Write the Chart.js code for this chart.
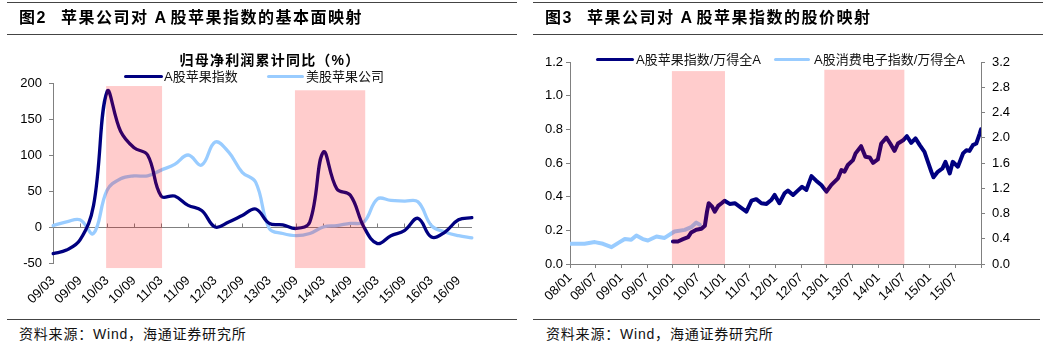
<!DOCTYPE html>
<html><head><meta charset="utf-8">
<script src="https://cdn.jsdelivr.net/npm/chart.js@4.4.1/dist/chart.umd.min.js"></script>
<style>
html,body{margin:0;padding:0;background:#fff;}
body{width:1054px;height:355px;position:relative;overflow:hidden;font-family:"Liberation Sans","Noto Sans CJK SC",sans-serif;color:#000;}
canvas{position:absolute;top:0;z-index:0;}
.rule{position:absolute;height:1px;background:#444;z-index:1;}
.t{position:absolute;white-space:nowrap;z-index:1;}
.title{font-weight:bold;font-size:16px;letter-spacing:1.5px;line-height:20px;top:8px;}
.title .a{margin:0 3px 0 6px;}
.ctitle{font-weight:bold;font-size:14px;letter-spacing:1.2px;line-height:18px;top:51px;text-align:center;}
.leg{font-size:13px;line-height:18px;color:#111;}
.sw{position:absolute;height:3px;border-radius:2px;z-index:1;}
.src{font-size:14px;letter-spacing:0.8px;line-height:18px;top:325px;color:#111;}
</style>
</head>
<body>
<!-- left panel -->
<div class="rule" style="left:7px;width:510px;top:2px"></div>
<div class="t title" style="left:19px">图2</div>
<div class="t title" style="left:61px">苹果公司对<span class="a">A</span>股苹果指数的基本面映射</div>
<div class="rule" style="left:7px;width:510px;top:34px"></div>
<div class="t ctitle" style="left:170px;width:200px">归母净利润累计同比（%）</div>
<div class="sw" style="left:124px;width:39px;top:75px;background:#000080"></div>
<div class="t leg" style="left:164px;top:68px">A股苹果指数</div>
<div class="sw" style="left:267px;width:37px;top:75px;background:#99CCFF"></div>
<div class="t leg" style="left:306px;top:68px">美股苹果公司</div>
<div class="rule" style="left:7px;width:510px;top:319px"></div>
<div class="t src" style="left:19px">资料来源：Wind，海通证券研究所</div>

<!-- right panel -->
<div class="rule" style="left:533px;width:510px;top:2px"></div>
<div class="t title" style="left:545px">图3</div>
<div class="t title" style="left:587px">苹果公司对<span class="a">A</span>股苹果指数的股价映射</div>
<div class="rule" style="left:533px;width:510px;top:34px"></div>
<div class="sw" style="left:596px;width:38px;top:58px;background:#000080"></div>
<div class="t leg" style="left:636px;top:51px">A股苹果指数/万得全A</div>
<div class="sw" style="left:774px;width:36px;top:58px;background:#99CCFF"></div>
<div class="t leg" style="left:814px;top:51px">A股消费电子指数/万得全A</div>
<div class="rule" style="left:533px;width:507px;top:319px"></div>
<div class="t src" style="left:546px">资料来源：Wind，海通证券研究所</div>

<canvas id="c1" width="526" height="318" style="left:0"></canvas>
<canvas id="c2" width="528" height="318" style="left:526px"></canvas>

<script>
// ---------- Figure 2 data (quarterly, cumulative YoY net profit %) ----------
const quarters = ['09/03','09/06','09/09','09/12','10/03','10/06','10/09','10/12',
  '11/03','11/06','11/09','11/12','12/03','12/06','12/09','12/12',
  '13/03','13/06','13/09','13/12','14/03','14/06','14/09','14/12',
  '15/03','15/06','15/09','15/12','16/03','16/06','16/09','16/12'];
const aShareApple = [-37,-32,-18,30,188,133,110,100,43,43,30,23,0,7,16,25,
  5,3,-2,7,104,53,44,0,-23,-12,-5,12,-14,-7,10,13];
const usApple = [2,7,10,-9,51,67,71,71,79,87,100,86,118,104,76,62,
  -2,-9,-12,-9,0,2,5,7,39,37,36,35,2,-7,-12,-15];
// highlighted periods (category index units) and their heights
const fig2BandStart = [3.93, 17.9];
const fig2BandEnd = [8.07, 23.1];
const fig2BandTop = [195.8, 189.9];
const fig2BandBottom = -57;

// ---------- Figure 3 data (months since 2008/01) ----------
const fig3TickLabels = ['08/01','08/07','09/01','09/07','10/01','10/07','11/01','11/07',
  '12/01','12/07','13/01','13/07','14/01','14/07','15/01','15/07'];
const appleMonths = [24.05,25.2,26.4,27.6,28.3,29.5,30.7,31.5,32.0,32.4,33.2,33.8,34.6,35.4,36.1,
  37.3,38.5,39.6,41.2,42.4,43.5,44.7,45.9,47.0,47.8,48.9,50.1,50.9,52.1,53.2,54.2,55.2,56.4,
  57.5,58.7,59.9,61.0,61.4,62.6,63.4,64.1,64.9,66.1,66.7,68.0,69.0,70.0,70.8,71.9,72.7,73.9,
  74.8,75.8,76.6,77.8,78.7,79.7,80.7,81.7,82.8,83.6,84.4,84.9,85.9,87.0,87.7,88.7,89.4,90.6,
  91.8,92.6,93.3,94.1,94.9,95.7,96.0];
const appleRatio = [0.134,0.134,0.148,0.160,0.187,0.203,0.209,0.227,0.311,0.361,0.341,0.311,0.345,0.361,0.376,
  0.357,0.361,0.341,0.311,0.376,0.385,0.361,0.357,0.380,0.410,0.361,0.420,0.436,0.410,0.436,0.459,0.440,0.522,
  0.495,0.469,0.430,0.469,0.479,0.509,0.558,0.548,0.588,0.617,0.657,0.700,0.637,0.633,0.601,0.621,0.716,0.751,
  0.716,0.672,0.716,0.735,0.759,0.720,0.746,0.706,0.666,0.607,0.548,0.515,0.548,0.568,0.607,0.538,0.607,0.578,
  0.657,0.676,0.672,0.706,0.716,0.775,0.800];
// consumer electronics ratio, read on the right axis
const elecMonths = [0,3.4,5.8,7.7,9.7,11.2,12.8,14.3,15.5,17.0,18.2,20.2,22.1,24.4,26.8,28.3,29.5,30.3];
const elecRatio = [0.32,0.32,0.347,0.32,0.267,0.331,0.395,0.384,0.451,0.395,0.373,0.435,0.413,0.514,0.541,0.584,0.656,0.621];
const fig3BandStart = [23.8, 59.4];
const fig3BandEnd = [36.2, 78.1];
const fig3BandTop = [1.146, 1.154];
const fig3BandBottom = 0;

// ---------- styles ----------
const NAVY = '#000080', LIGHT = '#99CCFF', AXIS = '#808080', BAND = 'rgba(255,0,0,0.2)';
const tickFont = {family:'"Liberation Sans", Arial, sans-serif', size:13};
const xFont = {family:'"Liberation Sans", Arial, sans-serif', size:13};

function bandPlugin(id, yId, starts, ends, tops, bottom){
  return {
    id,
    afterDatasetsDraw(chart){
      const ctx = chart.ctx, xs = chart.scales.x, ys = chart.scales[yId];
      ctx.save();
      ctx.fillStyle = BAND;
      starts.forEach((s, i) => {
        const x0 = xs.getPixelForValue(s), x1 = xs.getPixelForValue(ends[i]);
        const y0 = ys.getPixelForValue(tops[i]), y1 = ys.getPixelForValue(bottom);
        ctx.fillRect(x0, y0, x1 - x0, y1 - y0);
      });
      ctx.restore();
    }
  };
}

const zeroAxisPlugin = {
  id: 'zeroAxis',
  beforeDatasetsDraw(chart){
    const {ctx, chartArea: a} = chart, xs = chart.scales.x, ys = chart.scales.y;
    const y0 = Math.round(ys.getPixelForValue(0)) + 0.5;
    ctx.save();
    ctx.strokeStyle = AXIS; ctx.lineWidth = 1;
    ctx.beginPath();
    ctx.moveTo(a.left, y0); ctx.lineTo(a.right, y0);
    quarters.forEach((q, i) => {
      if (i > 0 && i % 2 === 0) {
        const px = Math.round(xs.getPixelForValue(i)) + 0.5;
        ctx.moveTo(px, y0); ctx.lineTo(px, y0 - 4);
      }
    });
    ctx.stroke();
    ctx.restore();
  }
};

new Chart(document.getElementById('c1'), {
  type: 'line',
  data: {
    labels: quarters,
    datasets: [
      {label:'A股苹果指数', data: aShareApple, borderColor: NAVY, borderWidth: 3.3, pointRadius: 0, tension: 0.4, fill: false, borderCapStyle:'round', borderJoinStyle:'round'},
      {label:'美股苹果公司', data: usApple, borderColor: LIGHT, borderWidth: 3.3, pointRadius: 0, tension: 0.4, fill: false, borderCapStyle:'round', borderJoinStyle:'round'}
    ]
  },
  options: {
    responsive: false, animation: false, devicePixelRatio: 1,
    layout: {padding: {left: 0, right: 54, top: 83, bottom: 0}},
    plugins: {legend: {display: false}, tooltip: {enabled: false}},
    scales: {
      x: {
        type: 'category', offset: false,
        grid: {display: false}, border: {display: false},
        ticks: {autoSkip: false, maxRotation: 45, minRotation: 45, padding: 2, font: xFont, color: '#000',
          callback: (v, i) => (i % 2 === 0 ? quarters[i] : '')},
        afterFit: s => { s.height = 55; }
      },
      y: {
        min: -50, max: 200,
        ticks: {stepSize: 50, font: tickFont, color: '#000', padding: 7},
        grid: {drawOnChartArea: false, tickLength: 4, color: AXIS},
        border: {display: true, color: AXIS},
        afterFit: s => { s.width = 53; }
      }
    }
  },
  plugins: [zeroAxisPlugin, bandPlugin('bands2', 'y', fig2BandStart, fig2BandEnd, fig2BandTop, fig2BandBottom)]
});

new Chart(document.getElementById('c2'), {
  type: 'line',
  data: {
    datasets: [
      {label:'A股苹果指数/万得全A', data: appleMonths.map((m, i) => ({x: m, y: appleRatio[i]})), yAxisID: 'y',
        borderColor: NAVY, borderWidth: 4, pointRadius: 0, tension: 0, borderJoinStyle: 'round', borderCapStyle: 'round'},
      {label:'A股消费电子指数/万得全A', data: elecMonths.map((m, i) => ({x: m, y: elecRatio[i]})), yAxisID: 'y1',
        borderColor: LIGHT, borderWidth: 4, pointRadius: 0, tension: 0, borderJoinStyle: 'round', borderCapStyle: 'round'}
    ]
  },
  options: {
    responsive: false, animation: false, devicePixelRatio: 1,
    layout: {padding: {left: 0, right: 0, top: 62, bottom: 0}},
    plugins: {legend: {display: false}, tooltip: {enabled: false}},
    scales: {
      x: {
        type: 'linear', min: 0, max: 96,
        ticks: {stepSize: 6, autoSkip: false, maxRotation: 45, minRotation: 45, padding: 2, font: xFont, color: '#000',
          callback: (v, i) => fig3TickLabels[i] || ''},
        grid: {drawOnChartArea: false, tickLength: 4, color: AXIS},
        border: {display: true, color: AXIS},
        afterFit: s => { s.height = 54; }
      },
      y: {
        position: 'left', min: 0, max: 1.2,
        ticks: {stepSize: 0.2, font: tickFont, color: '#000', padding: 3, callback: v => v.toFixed(1)},
        grid: {drawOnChartArea: false, tickLength: 4, color: AXIS},
        border: {display: true, color: AXIS},
        afterFit: s => { s.width = 44; }
      },
      y1: {
        position: 'right', min: 0, max: 3.2,
        ticks: {stepSize: 0.4, font: tickFont, color: '#000', padding: 7, callback: v => v.toFixed(1)},
        grid: {drawOnChartArea: false, tickLength: 4, color: AXIS},
        border: {display: true, color: AXIS},
        afterFit: s => { s.width = 73; }
      }
    }
  },
  plugins: [bandPlugin('bands3', 'y', fig3BandStart, fig3BandEnd, fig3BandTop, fig3BandBottom)]
});
</script>
</body></html>
